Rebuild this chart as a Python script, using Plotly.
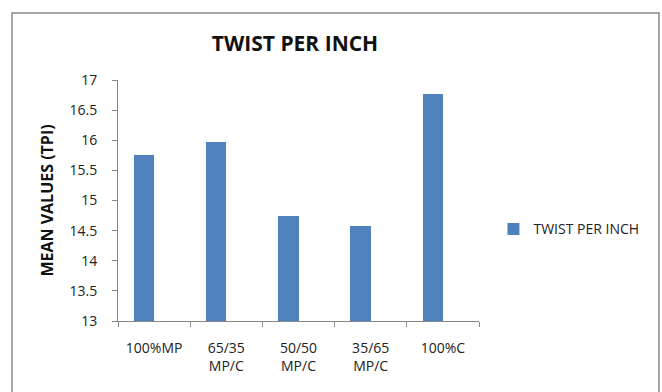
import plotly.graph_objects as go

categories = ["100%MP", "65/35<br>MP/C", "50/50<br>MP/C", "35/65<br>MP/C", "100%C"]
values = [15.75, 15.97, 14.75, 14.58, 16.77]
series_name = "TWIST PER INCH"
y_ticks = [13, 13.5, 14, 14.5, 15, 15.5, 16, 16.5, 17]
y_tick_labels = ["13", "13.5", "14", "14.5", "15", "15.5", "16", "16.5", "17"]

FONT = "Open Sans"

fig = go.Figure()
fig.add_trace(go.Bar(
    x=categories, y=values, name=series_name,
    marker=dict(color="#4F81BD", line=dict(width=0)),
    width=0.28, offset=-0.28,
))

fig.update_layout(
    width=662, height=392,
    margin=dict(l=118, r=183, t=80, b=71),
    paper_bgcolor="white", plot_bgcolor="white",
    font=dict(family=FONT, size=14, color="#222"),
    title=dict(text="<b>TWIST PER INCH</b>", x=295/662, xanchor="center",
               y=1-44/392, yanchor="middle",
               font=dict(family=FONT, size=21, color="#111")),
    showlegend=True,
    legend=dict(x=1.04, y=0.38, xanchor="left", yanchor="middle",
                font=dict(family=FONT, size=14, color="#222"),
                bgcolor="rgba(0,0,0,0)"),
    bargap=0,
)

fig.update_xaxes(
    type="category", showline=True, linecolor="#868686", linewidth=1,
    ticks="outside", ticklen=5, tickcolor="#868686", tickson="boundaries",
    showgrid=False, ticklabelstandoff=14,
    tickfont=dict(family=FONT, size=14, color="#222"),
)
fig.update_yaxes(
    range=[13, 17], tickvals=y_ticks, ticktext=y_tick_labels,
    showline=True, linecolor="#868686", linewidth=1,
    ticks="outside", ticklen=5, tickcolor="#868686",
    showgrid=False, zeroline=False, ticklabelstandoff=12,
    tickfont=dict(family=FONT, size=14, color="#222"),
    title=dict(text="<b>MEAN VALUES (TPI)</b>", standoff=11,
               font=dict(family=FONT, size=16, color="#111")),
)

# outer chart border
fig.add_shape(type="rect", xref="paper", yref="paper",
              x0=(12-118)/361, x1=(659-118)/361, y0=-0.6, y1=(321-13)/241,
              line=dict(color="#8a8a8a", width=1.5), layer="below")

fig.write_html("out.html")
